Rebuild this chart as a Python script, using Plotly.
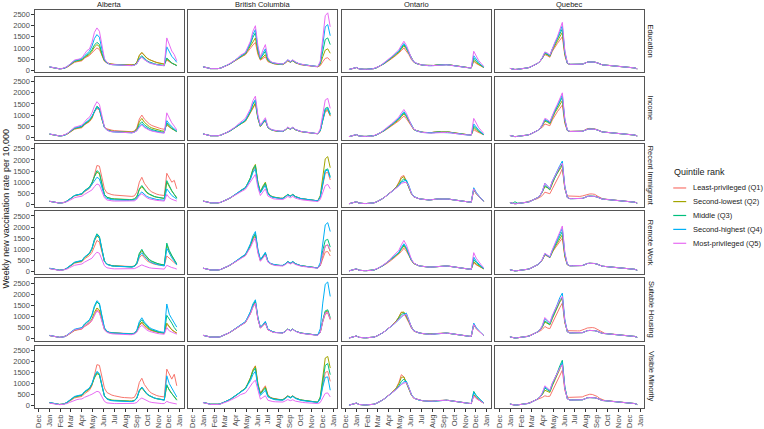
import plotly.graph_objects as go
import pandas as pd

# ---------------- data (weekly new vaccination rate per 10,000, stored in units of 10) ----------------
UNIT = 10
PROVINCES = ["Alberta", "British Columbia", "Ontario", "Quebec"]
INDICATORS = ["Education", "Income", "Recent Immigrant", "Remote Work", "Suitable Housing", "Visible Minority"]
QUINTILES = ["Least-privileged (Q1)", "Second-lowest (Q2)", "Middle (Q3)", "Second-highest (Q4)", "Most-privileged (Q5)"]
COLORS = ["#F8766D", "#A3A500", "#00BF7D", "#00B0F6", "#E76BF3"]
MONTH_TICKS = ["2020-12-01", "2021-01-01", "2021-02-01", "2021-03-01", "2021-04-01", "2021-05-01", "2021-06-01",
               "2021-07-01", "2021-08-01", "2021-09-01", "2021-10-01", "2021-11-01", "2021-12-01", "2022-01-01"]
MONTH_LABELS = ["Dec", "Jan", "Feb", "Mar", "Apr", "May", "Jun", "Jul", "Aug", "Sep", "Oct", "Nov", "Dec", "Jan"]
Y_TICKS = [0, 500, 1000, 1500, 2000, 2500]
START = {"Alberta": "2020-12-31", "British Columbia": "2020-12-31", "Ontario": "2020-12-10", "Quebec": "2020-12-31"}

AB_EDUCATION = [
 [14,12,8,6,6,7,8,13,20,28,35,38,40,42, 54,60,66,78,90,100,93,62,40,32, 29,27,26,25,25,24,24,23,23,23,25, 35,65,78,65,54,47,42,38,35,32,30,28, 45,37,31,26,20],
 [14,12,8,6,6,7,9,14,22,30,38,41,43,45, 57,65,71,85,104,115,106,69,42,33, 29,27,26,25,25,24,24,23,23,23,25, 36,67,80,66,55,48,42,38,34,31,29,27, 50,40,32,27,22],
 [14,12,8,6,6,7,9,15,23,32,40,43,45,48, 60,68,76,92,113,125,116,76,44,33, 27,25,24,23,23,22,22,21,21,21,23, 30,54,65,52,43,37,32,29,26,24,22,21, 55,42,32,26,20],
 [15,13,8,6,6,7,9,16,24,34,43,46,48,52, 64,76,85,108,142,160,148,95,48,34, 27,25,24,23,22,21,21,21,21,21,22, 29,50,60,48,40,34,30,27,24,23,21,20, 105,80,62,50,35],
 [15,13,8,6,6,7,10,16,25,35,45,48,50,56, 70,88,95,125,170,190,175,110,52,35, 27,25,24,23,22,21,21,20,20,20,22, 29,48,58,47,39,33,29,26,24,22,21,20, 145,115,86,70,42],
]
AB_INCOME = [
 [14,12,8,6,6,7,9,14,21,29,36,39,41,43, 56,64,70,85,113,130,122,80,46,38, 34,32,30,29,28,27,26,26,25,25,28, 42,82,100,82,69,60,53,48,44,41,38,36, 55,45,38,33,28],
 [14,12,8,6,6,7,9,14,22,30,38,41,43,46, 58,66,73,88,117,135,126,82,45,34, 30,28,27,26,25,24,24,23,23,23,26, 38,70,85,68,56,48,42,38,34,31,29,27, 60,47,38,32,25],
 [14,12,8,6,6,7,9,15,23,32,40,43,45,48, 60,68,76,92,120,140,130,84,45,33, 28,26,25,24,23,22,22,21,21,21,24, 33,58,70,56,46,40,35,31,28,26,24,23, 65,52,40,33,26],
 [15,13,8,6,6,7,9,16,24,33,42,45,47,50, 62,72,80,95,118,135,126,82,44,32, 27,25,24,23,22,21,21,20,20,20,23, 30,50,60,48,40,34,30,27,24,22,21,20, 75,60,47,37,28],
 [15,13,8,6,6,7,10,16,25,35,45,48,50,55, 68,82,90,110,140,160,148,95,47,33, 27,25,24,23,22,21,21,20,20,20,23, 29,46,55,44,37,32,28,25,23,21,20,19, 110,85,65,50,33],
]
AB_IMMIGRANT = [
 [14,12,8,6,6,7,9,14,22,30,38,41,43,45, 56,65,72,90,140,175,172,120,70,52, 47,44,42,41,40,40,39,38,37,36,38, 55,100,122,95,78,65,56,50,46,43,41,40, 140,120,100,108,70],
 [14,12,8,6,6,7,9,15,23,31,39,42,44,47, 60,69,76,95,125,145,138,90,45,32, 28,26,25,24,23,23,22,22,22,22,25, 35,66,80,64,52,45,39,35,32,30,28,27, 100,78,60,45,30],
 [14,12,8,6,6,7,9,15,23,32,40,43,45,48, 62,71,78,98,130,152,143,92,45,32, 27,25,24,23,22,22,21,21,21,21,24, 34,70,85,68,55,47,41,36,33,30,28,27, 107,82,62,45,28],
 [14,12,8,6,6,7,9,15,23,32,40,43,45,48, 60,68,74,90,108,122,115,75,38,27, 23,21,20,19,19,18,18,18,18,18,20, 28,46,56,44,36,31,27,24,22,21,20,19, 70,52,40,32,24],
 [14,12,8,6,6,7,8,12,18,25,30,33,35,37, 45,52,56,65,80,92,87,56,30,20, 17,16,15,15,14,14,14,14,14,14,16, 23,40,48,38,30,25,22,20,18,17,16,15, 45,30,23,20,15],
]
AB_REMOTE = [
 [14,12,8,6,6,7,9,14,21,29,37,40,42,44, 57,65,72,86,118,140,132,86,45,33, 29,27,26,25,25,24,24,23,23,23,25, 33,62,75,60,49,42,37,33,31,29,28,27, 70,60,50,40,30],
 [14,12,8,6,6,7,9,15,23,32,40,43,45,48, 62,72,80,100,138,160,150,97,47,33, 28,26,25,24,23,22,22,21,21,21,24, 38,78,95,76,62,52,45,40,36,33,31,29, 120,90,70,52,33],
 [14,12,8,6,6,7,9,15,23,32,40,43,45,48, 64,74,82,104,145,170,158,102,48,33, 28,26,25,24,23,22,22,21,21,21,24, 40,82,100,80,65,54,47,41,37,34,31,29, 128,95,73,56,34],
 [15,13,8,6,6,7,9,16,24,33,42,45,47,50, 65,75,83,104,142,165,154,100,47,32, 27,25,24,23,22,21,21,20,20,20,23, 35,70,85,68,55,46,40,35,32,29,27,25, 105,80,62,47,30],
 [13,11,7,5,5,6,8,11,17,23,28,30,32,34, 42,48,52,60,75,87,82,54,26,17, 14,13,12,12,12,12,11,11,11,11,13, 18,26,30,25,20,17,15,14,13,12,12,11, 28,22,18,15,11],
]
AB_HOUSING = [
 [14,12,8,6,6,7,9,14,21,29,36,39,41,43, 54,62,68,82,110,130,122,80,42,32, 28,27,26,25,25,24,24,23,23,23,25, 33,58,70,56,46,40,35,32,29,27,26,25, 65,50,40,32,25],
 [14,12,8,6,6,7,9,14,22,30,38,41,43,46, 58,66,73,88,118,138,129,84,43,32, 27,26,25,24,23,22,22,21,21,21,24, 33,62,75,60,49,42,37,33,30,28,26,25, 70,52,40,32,25],
 [14,12,8,6,6,7,9,15,23,32,40,43,45,48, 64,74,82,104,142,165,154,100,47,33, 27,26,25,24,23,22,22,21,21,21,24, 36,70,85,68,55,46,40,35,32,29,27,25, 105,90,70,50,35],
 [15,13,8,6,6,7,9,16,24,33,42,45,47,50, 66,76,85,108,148,171,160,104,49,34, 28,26,25,24,23,22,22,21,21,21,24, 38,77,94,75,61,51,44,39,35,32,30,28, 156,110,90,70,52],
 [14,12,8,6,6,7,9,15,23,31,39,42,44,46, 56,64,70,82,106,124,116,76,40,28, 24,22,21,20,20,19,19,18,18,18,21, 29,50,60,48,39,33,29,26,24,22,21,20, 50,35,30,25,20],
]
AB_MINORITY = [
 [13,11,8,6,6,7,9,14,20,28,35,38,40,42, 54,63,70,90,145,185,182,130,80,60, 52,48,45,42,40,38,37,36,35,35,38, 60,105,124,96,78,65,56,50,46,43,41,40, 165,140,120,142,90],
 [14,12,8,6,6,7,9,15,23,31,39,42,44,47, 60,69,76,95,125,145,138,90,45,32, 28,26,25,24,23,23,22,22,22,22,25, 35,66,80,64,52,45,39,35,32,30,28,27, 90,70,55,42,28],
 [14,12,8,6,6,7,9,15,23,32,40,43,45,48, 62,71,78,98,129,150,141,91,44,31, 26,24,23,22,21,21,20,20,20,20,23, 35,69,84,67,54,46,40,35,32,29,27,26, 95,70,55,40,25],
 [15,13,8,6,6,7,9,16,24,33,42,45,47,50, 64,73,80,100,133,155,145,94,45,31, 25,23,22,21,20,20,19,19,19,19,22, 34,69,84,67,54,46,40,35,32,29,27,25, 135,100,80,60,40],
 [12,10,6,5,5,6,7,10,15,20,25,28,30,31, 38,44,47,52,60,65,62,42,20,13, 11,10,10,10,10,9,9,9,9,9,11, 15,28,35,28,22,18,15,13,12,11,10,10, 20,15,12,10,8],
]

BC_EDUCATION = [
 [15,14,10,7,6,6,7,9,13,17,23,29,36,42, 50,59,64,69,85,100,113,125,70,45, 52,60,38,33,30,27,26,25,25,32,42, 35,42,33,28,25,23,21,20,19,17,16,15, 20,38,53,56,43],
 [15,14,10,7,6,6,7,9,13,18,24,30,37,43, 52,61,66,72,90,108,129,145,80,48, 58,70,42,35,31,28,27,26,26,33,43, 36,43,34,29,26,24,22,21,19,18,17,16, 25,60,90,96,76],
 [15,14,10,7,6,6,7,9,13,18,24,30,38,44, 54,64,69,75,96,116,148,168,93,51, 68,85,47,37,32,29,28,27,27,34,45, 37,44,35,30,27,25,23,21,20,18,17,16, 30,88,138,145,115],
 [15,14,10,7,6,6,7,9,13,18,24,30,38,45, 55,65,71,77,100,122,160,183,100,54, 76,96,50,38,33,30,29,28,28,35,46, 38,45,36,30,27,25,23,21,20,18,17,16, 35,123,195,205,155],
 [15,14,10,7,6,6,7,9,13,18,25,31,39,46, 56,67,73,80,105,130,175,200,110,58, 90,115,56,40,34,31,29,28,28,35,47, 39,46,37,31,28,25,23,21,20,18,17,16, 40,155,245,258,195],
]
BC_INCOME = [
 [15,14,10,7,6,6,7,9,13,17,23,29,36,42, 51,60,66,72,90,110,135,150,83,48, 62,75,43,35,31,28,27,26,26,33,43, 36,43,34,29,26,24,22,21,19,18,17,16, 28,75,115,120,95],
 [15,14,10,7,6,6,7,9,13,18,24,30,37,43, 52,61,67,73,92,113,140,155,86,49, 64,78,44,35,31,28,27,26,26,33,43, 36,43,34,29,26,24,22,21,19,18,17,16, 29,78,120,125,98],
 [15,14,10,7,6,6,7,9,13,18,24,30,38,44, 54,63,69,75,95,116,148,165,90,50, 65,80,45,36,32,29,28,27,27,34,44, 37,44,35,30,27,25,23,21,20,18,17,16, 30,83,130,135,105],
 [15,14,10,7,6,6,7,9,13,18,24,30,38,45, 55,65,70,77,98,120,152,170,92,51, 65,80,45,36,32,29,28,27,27,34,44, 37,44,35,30,27,25,23,21,20,18,17,16, 30,80,125,130,102],
 [15,14,10,7,6,6,7,9,13,19,25,32,40,47, 58,69,76,85,105,128,165,185,100,54, 72,88,48,38,33,30,29,28,28,35,46, 38,45,36,30,27,25,23,21,20,18,17,16, 38,110,168,175,130],
]
BC_IMMIGRANT = [
 [15,14,10,7,6,6,7,9,13,17,23,29,36,42, 51,60,66,73,93,115,150,170,95,54, 74,90,50,38,33,30,28,27,27,34,44, 37,44,35,30,27,25,23,21,20,18,17,16, 32,90,140,145,110],
 [15,14,10,7,6,6,7,9,13,18,24,30,37,43, 52,62,68,75,96,120,160,180,100,56, 82,100,54,40,34,31,29,28,28,35,45, 38,45,36,30,27,25,23,21,20,18,17,16, 40,130,205,215,165],
 [15,14,10,7,6,6,7,9,13,18,24,30,38,44, 53,63,69,75,96,119,156,175,97,55, 78,95,52,39,33,30,28,27,27,34,44, 37,44,35,30,27,25,23,21,20,18,17,16, 33,100,155,160,125],
 [15,14,10,7,6,6,7,9,13,18,24,30,38,45, 54,64,69,75,94,112,143,160,89,52, 70,85,48,37,32,29,28,27,27,34,44, 37,44,35,30,27,25,23,21,20,18,17,16, 33,98,150,155,120],
 [15,14,10,7,6,6,7,9,13,18,24,30,37,43, 50,58,62,68,85,100,120,135,76,40, 56,70,38,30,26,24,23,22,22,28,36, 30,36,28,24,22,20,18,17,16,15,14,13, 22,55,85,90,70],
]
BC_REMOTE = [
 [15,14,10,7,6,6,7,9,13,17,23,29,36,42, 51,60,66,72,92,112,142,160,89,50, 65,80,45,36,32,29,28,27,27,34,44, 37,44,35,30,27,25,23,21,20,18,17,16, 26,60,88,90,70],
 [15,14,10,7,6,6,7,9,13,18,24,30,37,43, 52,62,68,75,95,118,150,170,94,51, 66,82,46,36,32,29,28,27,27,34,44, 37,44,35,30,27,25,23,21,20,18,17,16, 28,75,115,120,90],
 [15,14,10,7,6,6,7,9,13,18,24,30,38,44, 53,63,69,75,96,119,151,170,94,51, 66,82,46,36,32,29,28,27,27,34,44, 37,44,35,30,27,25,23,21,20,18,17,16, 30,95,140,145,110],
 [15,14,10,7,6,6,7,9,13,18,24,30,38,45, 55,65,71,78,100,125,160,180,100,54, 70,87,48,38,33,30,29,28,28,35,45, 38,45,36,30,27,25,23,21,20,18,17,16, 40,135,210,220,180],
 [15,14,10,7,6,6,7,9,13,18,24,30,37,43, 51,60,65,71,90,108,133,150,83,46, 60,75,42,34,30,27,26,25,25,31,40, 34,40,32,27,25,23,21,19,18,17,16,15, 28,78,115,120,95],
]
BC_HOUSING = [
 [15,14,10,7,6,6,7,9,13,17,23,29,36,42, 51,60,66,72,92,112,142,160,89,48, 58,70,40,34,30,28,27,26,26,33,43, 36,43,34,29,26,24,22,21,19,18,17,16, 28,75,110,115,85],
 [15,14,10,7,6,6,7,9,13,18,24,30,37,43, 52,61,67,74,94,115,146,165,91,49, 60,72,41,34,30,28,27,26,26,33,43, 36,43,34,29,26,24,22,21,19,18,17,16, 29,80,120,125,90],
 [15,14,10,7,6,6,7,9,13,18,24,30,38,44, 53,63,69,75,96,119,151,170,94,50, 62,75,42,35,31,28,27,26,26,33,43, 36,43,34,29,26,24,22,21,19,18,17,16, 30,83,125,130,95],
 [15,14,10,7,6,6,7,9,13,18,24,30,38,45, 54,64,70,77,98,122,156,175,97,51, 64,78,43,35,31,28,27,26,26,33,43, 36,43,34,29,26,24,22,21,19,18,17,16, 45,160,245,255,190],
 [15,14,10,7,6,6,7,9,13,18,24,30,37,43, 51,60,66,73,92,112,142,160,89,48, 58,70,40,33,29,27,26,25,25,32,42, 35,42,33,28,25,23,21,20,18,17,16,15, 28,78,115,120,88],
]
BC_MINORITY = [
 [15,14,10,7,6,6,7,9,13,17,23,29,36,42, 52,62,70,78,100,125,162,180,100,56, 75,90,50,39,34,31,29,28,28,35,45, 38,45,36,30,27,25,23,21,20,18,17,16, 33,100,150,155,110],
 [15,14,10,7,6,6,7,9,13,18,24,30,37,43, 53,63,71,79,101,126,160,178,99,54, 71,85,47,37,33,30,28,27,27,34,44, 37,44,35,30,27,25,23,21,20,18,17,16, 40,135,215,222,170],
 [15,14,10,7,6,6,7,9,13,18,24,30,38,44, 53,63,70,78,99,122,153,170,94,52, 67,80,45,36,32,29,28,27,27,34,44, 37,44,35,30,27,25,23,21,20,18,17,16, 37,115,182,190,140],
 [15,14,10,7,6,6,7,9,13,18,24,30,38,45, 54,64,70,76,95,113,140,155,86,47, 58,70,40,33,30,27,26,25,25,32,42, 35,42,33,28,25,23,21,20,18,17,16,15, 30,85,128,130,70],
 [14,13,9,6,5,5,6,8,11,15,20,25,30,35, 42,50,54,58,72,88,105,115,65,30, 38,45,25,21,19,18,17,17,17,22,28, 23,27,21,18,16,15,14,13,12,11,10,10, 15,38,56,58,40],
]

ON_EDUCATION = [
 [3,5,8, 11,6,4,4,4,4,5,7,10,15,21,28,35,42, 50,59,68,76,88,100,87,70,48,35, 30,26,24,22,21,20,20,21,23,24,24, 25,25,24,22,20,18,16,14,13,12,11,10, 40,30,23,17,12],
 [3,5,8, 12,6,4,4,4,4,5,7,11,16,22,29,37,44, 53,62,72,80,95,110,95,75,50,36, 30,26,24,22,21,20,20,21,23,24,24, 25,25,24,22,20,18,16,14,13,12,11,10, 45,33,25,18,12],
 [3,5,8, 12,6,4,4,4,4,5,7,11,16,23,30,38,46, 56,66,76,84,100,115,100,78,52,37, 30,26,24,22,21,20,20,21,23,24,24, 25,25,24,22,20,18,16,14,13,12,11,10, 55,40,30,20,13],
 [3,5,8, 12,6,4,4,4,4,5,7,11,16,23,30,38,46, 57,67,77,86,104,120,104,80,53,37, 30,26,24,22,21,20,20,21,22,23,23, 24,24,23,21,19,17,15,14,13,12,11,10, 65,47,34,23,14],
 [3,5,8, 12,6,4,4,4,4,5,8,12,17,24,32,40,48, 60,70,82,92,112,130,112,85,55,38, 30,26,24,22,21,20,20,21,22,23,23, 24,24,23,21,19,17,15,14,13,12,11,10, 85,60,43,30,17],
]
ON_INCOME = [
 [3,5,8, 11,6,4,4,4,4,5,7,10,15,21,28,35,42, 50,58,66,74,85,95,84,68,47,34, 30,26,24,22,21,20,21,23,25,25,24, 25,25,24,22,20,18,16,14,13,12,11,10, 35,27,21,16,11],
 [3,5,8, 12,6,4,4,4,4,5,7,11,16,22,29,37,44, 53,62,71,79,93,105,92,73,49,35, 30,26,24,22,21,20,21,23,25,25,24, 25,25,24,22,20,18,16,14,13,12,11,10, 45,33,25,18,12],
 [3,5,8, 12,6,4,4,4,4,5,7,11,16,23,30,38,46, 56,65,75,83,98,110,96,76,51,36, 30,26,24,22,21,20,20,22,24,24,23, 24,24,23,21,19,17,15,14,13,12,11,10, 50,37,28,19,12],
 [3,5,8, 12,6,4,4,4,4,5,7,11,16,23,30,38,46, 57,66,76,85,101,115,100,78,52,36, 29,25,23,21,20,19,19,20,22,22,22, 23,23,22,20,18,16,14,13,12,11,10,10, 60,44,32,22,13],
 [3,5,8, 12,6,4,4,4,4,5,8,12,17,24,32,40,48, 60,70,82,91,110,125,108,82,54,37, 29,25,23,21,20,19,19,20,21,21,21, 22,22,21,19,17,16,14,13,12,11,10,10, 85,60,43,30,17],
]
ON_IMMIGRANT = [
 [3,5,8, 12,6,4,4,4,4,5,7,11,16,23,30,38,46, 58,68,80,100,125,130,105,75,48,34, 29,26,24,22,21,20,21,23,25,25,24, 25,25,24,22,20,18,16,14,13,12,11,10, 65,48,35,24,14],
 [3,5,8, 12,6,4,4,4,4,5,7,11,16,23,30,38,46, 57,67,78,96,118,125,105,76,49,34, 29,26,24,22,21,20,21,23,25,25,24, 25,25,24,22,20,18,16,14,13,12,11,10, 68,49,36,25,14],
 [3,5,8, 12,6,4,4,4,4,5,7,11,16,23,30,38,46, 56,66,76,88,105,115,105,80,50,35, 29,26,24,22,21,20,21,23,25,25,24, 25,25,24,22,20,18,16,14,13,12,11,10, 70,50,36,25,14],
 [3,5,8, 12,6,4,4,4,4,5,7,11,16,23,30,38,46, 56,65,75,85,100,105,110,85,52,35, 29,26,24,22,21,20,21,23,25,25,24, 25,25,24,22,20,18,16,14,13,12,11,10, 75,54,38,26,15],
 [3,5,8, 12,6,4,4,4,4,5,7,11,16,23,30,38,46, 55,64,74,83,95,98,100,82,50,34, 29,26,24,22,21,20,21,23,25,25,24, 25,25,24,22,20,18,16,14,13,12,11,10, 70,50,36,25,14],
]
ON_REMOTE = [
 [3,5,8, 11,6,4,4,4,4,5,7,10,15,21,28,35,42, 51,60,69,78,90,105,92,72,49,35, 30,26,24,22,21,20,20,21,23,24,24, 25,25,24,22,20,18,16,14,13,12,11,10, 40,30,23,17,12],
 [3,5,8, 12,6,4,4,4,4,5,7,11,16,23,30,38,46, 54,63,73,82,100,115,100,77,51,36, 30,26,24,22,21,20,20,21,23,24,24, 25,25,24,22,20,18,16,14,13,12,11,10, 45,33,25,18,12],
 [3,5,8, 12,6,4,4,4,4,5,7,11,16,23,30,38,46, 56,66,76,85,104,120,104,80,52,37, 30,26,24,22,21,20,20,21,23,24,24, 25,25,24,22,20,18,16,14,13,12,11,10, 55,40,30,20,13],
 [3,5,8, 12,6,4,4,4,4,5,7,11,16,23,30,38,46, 57,67,78,87,108,125,108,82,53,37, 30,26,24,22,21,20,20,21,23,24,24, 25,25,24,22,20,18,16,14,13,12,11,10, 65,47,34,23,14],
 [3,5,8, 12,6,4,4,4,4,5,8,12,17,24,32,40,48, 62,73,86,96,120,140,120,88,56,38, 30,26,24,22,21,20,20,21,23,24,24, 25,25,24,22,20,18,16,14,13,12,11,10, 85,60,43,30,17],
]
ON_HOUSING = [
 [3,5,8, 12,6,4,4,4,4,5,7,11,16,23,30,38,46, 57,68,80,98,120,115,95,72,48,34, 30,26,24,22,21,20,20,21,23,24,24, 25,25,24,22,20,18,16,14,13,12,11,10, 62,45,33,23,14],
 [3,5,8, 12,6,4,4,4,4,5,7,11,16,23,30,38,46, 57,68,80,98,118,120,98,74,49,34, 30,26,24,22,21,20,20,21,23,24,24, 25,25,24,22,20,18,16,14,13,12,11,10, 64,46,34,24,14],
 [3,5,8, 12,6,4,4,4,4,5,7,11,16,23,30,38,46, 56,66,77,90,108,115,105,79,51,35, 30,26,24,22,21,20,20,21,23,24,24, 25,25,24,22,20,18,16,14,13,12,11,10, 66,47,35,24,14],
 [3,5,8, 12,6,4,4,4,4,5,7,11,16,23,30,38,46, 55,65,75,86,100,108,115,85,53,36, 30,26,24,22,21,20,20,21,23,24,24, 25,25,24,22,20,18,16,14,13,12,11,10, 70,50,36,25,15],
 [3,5,8, 12,6,4,4,4,4,5,7,11,16,23,30,38,46, 56,66,76,86,100,105,110,83,52,35, 30,26,24,22,21,20,20,21,23,24,24, 25,25,24,22,20,18,16,14,13,12,11,10, 64,46,34,24,14],
]
ON_MINORITY = [
 [3,5,8, 12,6,4,4,4,4,5,7,11,16,23,30,38,46, 58,69,82,105,140,130,100,74,48,34, 30,26,24,22,21,20,20,21,23,24,24, 25,25,24,22,20,18,16,14,13,12,11,10, 45,33,25,18,12],
 [3,5,8, 12,6,4,4,4,4,5,7,11,16,23,30,38,46, 57,68,80,100,128,130,102,76,49,34, 30,26,24,22,21,20,20,21,23,24,24, 25,25,24,22,20,18,16,14,13,12,11,10, 50,37,27,19,12],
 [3,5,8, 12,6,4,4,4,4,5,7,11,16,23,30,38,46, 56,66,77,90,110,120,108,80,51,35, 30,26,24,22,21,20,20,21,23,24,24, 25,25,24,22,20,18,16,14,13,12,11,10, 65,47,34,23,14],
 [3,5,8, 12,6,4,4,4,4,5,7,11,16,23,30,38,46, 55,65,75,86,100,108,110,84,52,35, 30,26,24,22,21,20,20,21,23,24,24, 25,25,24,22,20,18,16,14,13,12,11,10, 60,44,32,22,13],
 [3,5,8, 12,6,4,4,4,4,5,7,11,16,23,30,38,46, 55,64,74,84,96,102,105,82,51,34, 30,26,24,22,21,20,20,21,23,24,24, 25,25,24,22,20,18,16,14,13,12,11,10, 45,33,25,18,12],
]

QC_EDUCATION = [
 [8,4,3,4,5,6,7,10,13,18,23,30,39, 52,70,65,58,85,105,120,135,150,65,30, 26,26,26,26,25,27,31,36,37,37,36,33,27,24,23,22,21,20,19,18,17,16,15,15,14,13,10,6],
 [8,4,3,4,5,6,7,10,13,18,23,30,39, 54,75,70,62,90,112,130,150,170,72,31, 26,26,26,26,25,27,31,36,37,37,36,33,27,24,23,22,21,20,19,18,17,16,15,15,14,13,10,6],
 [8,4,3,4,5,6,7,10,13,18,23,30,39, 55,78,72,64,95,118,138,162,185,78,32, 26,26,26,26,25,27,31,36,37,37,36,33,27,24,23,22,21,20,19,18,17,16,15,15,14,13,10,6],
 [8,4,3,4,5,6,7,10,13,18,23,30,39, 56,80,75,66,98,122,145,175,200,83,32, 26,26,26,26,25,27,31,36,37,37,36,33,27,24,23,22,21,20,19,18,17,16,15,15,14,13,10,6],
 [8,4,3,4,5,6,7,10,13,18,23,30,39, 57,82,77,68,100,125,150,185,215,88,33, 26,26,26,26,25,27,31,36,37,37,36,33,27,24,23,22,21,20,19,18,17,16,15,15,14,13,10,6],
]
QC_INCOME = [
 [8,4,3,4,5,6,7,10,13,18,23,30,39, 45,60,56,52,78,100,115,130,145,62,30, 27,27,27,27,26,28,33,39,40,40,38,34,28,24,23,22,21,20,19,18,17,16,15,15,14,13,10,6],
 [8,4,3,4,5,6,7,10,13,18,23,30,39, 52,72,68,60,88,110,128,145,165,70,31, 26,26,26,26,25,27,31,36,37,37,36,33,27,24,23,22,21,20,19,18,17,16,15,15,14,13,10,6],
 [8,4,3,4,5,6,7,10,13,18,23,30,39, 55,78,72,64,94,117,136,158,180,76,32, 26,26,26,26,25,27,31,36,37,37,36,33,27,24,23,22,21,20,19,18,17,16,15,15,14,13,10,6],
 [8,4,3,4,5,6,7,10,13,18,23,30,39, 56,80,75,66,97,120,142,168,190,80,32, 26,26,26,26,25,27,31,36,37,37,36,33,27,24,23,22,21,20,19,18,17,16,15,15,14,13,10,6],
 [8,4,3,4,5,6,7,10,13,18,23,30,39, 58,85,80,70,100,125,148,175,200,84,33, 26,26,26,26,25,27,31,36,37,37,36,33,27,24,23,22,21,20,19,18,17,16,15,15,14,13,10,6],
]
QC_IMMIGRANT = [
 [8,4,3,4,5,7,9,12,15,18,22,26,32, 40,55,50,48,70,90,110,135,160,70,38, 37,37,37,37,36,38,42,46,47,47,45,38,30,26,24,23,22,21,20,19,18,17,16,15,14,13,10,6],
 [8,4,3,4,5,6,7,10,13,18,23,30,39, 56,80,75,65,95,120,140,160,175,74,31, 26,26,26,26,25,27,31,36,37,37,36,33,27,24,23,22,21,20,19,18,17,16,15,15,14,13,10,6],
 [8,4,12,6,5,6,7,10,13,18,23,30,39, 57,85,78,68,98,122,143,165,180,76,31, 26,26,26,26,25,27,31,36,37,37,36,33,27,24,23,22,21,20,19,18,17,16,15,15,14,13,10,6],
 [8,4,3,4,5,6,7,10,13,18,23,30,39, 60,95,85,72,105,130,150,175,195,82,32, 26,26,26,26,25,27,31,36,37,37,36,33,27,24,23,22,21,20,19,18,17,16,15,15,14,13,10,6],
 [8,4,3,4,5,6,7,10,13,18,23,30,39, 60,95,85,72,105,128,148,170,185,78,31, 26,26,26,26,25,27,31,36,37,37,36,33,27,24,23,22,21,20,19,18,17,16,15,15,14,13,10,6],
]
QC_REMOTE = [
 [8,4,3,4,5,6,7,10,13,18,23,30,39, 52,75,70,62,88,105,120,135,150,65,30, 26,26,26,26,25,27,31,36,37,37,36,33,27,24,23,22,21,20,19,18,17,16,15,15,14,13,10,6],
 [8,4,3,4,5,6,7,10,13,18,23,30,39, 53,77,72,63,90,110,128,145,165,70,31, 26,26,26,26,25,27,31,36,37,37,36,33,27,24,23,22,21,20,19,18,17,16,15,15,14,13,10,6],
 [8,4,3,4,5,6,7,10,13,18,23,30,39, 54,79,73,64,93,115,135,158,180,76,32, 26,26,26,26,25,27,31,36,37,37,36,33,27,24,23,22,21,20,19,18,17,16,15,15,14,13,10,6],
 [8,4,3,4,5,6,7,10,13,18,23,30,39, 55,80,74,65,95,118,142,170,195,82,32, 26,26,26,26,25,27,31,36,37,37,36,33,27,24,23,22,21,20,19,18,17,16,15,15,14,13,10,6],
 [8,4,3,4,5,6,7,10,13,18,23,30,39, 56,82,76,67,98,122,148,178,205,86,33, 26,26,26,26,25,27,31,36,37,37,36,33,27,24,23,22,21,20,19,18,17,16,15,15,14,13,10,6],
]
QC_HOUSING = [
 [8,4,3,4,5,6,8,11,15,19,24,28,34, 42,55,48,45,70,95,115,140,160,70,36, 35,35,35,35,35,38,43,48,50,50,48,42,33,27,24,23,22,21,20,19,18,17,16,15,14,13,10,6],
 [8,4,3,4,5,6,7,10,13,18,23,30,39, 52,75,70,62,90,115,140,165,180,76,31, 26,26,26,26,25,27,31,36,37,37,36,33,27,24,23,22,21,20,19,18,17,16,15,15,14,13,10,6],
 [8,4,3,4,5,6,7,10,13,18,23,30,39, 54,80,73,64,95,120,145,170,185,78,31, 26,26,26,26,25,27,31,36,37,37,36,33,27,24,23,22,21,20,19,18,17,16,15,15,14,13,10,6],
 [8,4,3,4,5,6,7,10,13,18,23,30,39, 58,90,82,70,100,125,155,185,205,86,32, 26,26,26,26,25,27,31,36,37,37,36,33,27,24,23,22,21,20,19,18,17,16,15,15,14,13,10,6],
 [8,4,3,4,5,6,7,10,13,18,23,30,39, 60,95,85,72,105,128,150,175,190,80,31, 26,26,26,26,25,27,31,36,37,37,36,33,27,24,23,22,21,20,19,18,17,16,15,15,14,13,10,6],
]
QC_MINORITY = [
 [8,4,3,4,5,6,8,11,15,19,23,27,32, 38,45,42,43,65,90,110,135,160,70,38, 38,38,38,38,38,40,45,50,52,51,48,42,33,27,24,23,22,21,20,19,18,17,16,15,14,13,10,6],
 [8,4,3,4,5,6,7,10,13,18,23,30,39, 50,70,65,60,90,115,140,170,190,80,32, 26,26,26,26,25,27,31,36,37,37,36,33,27,24,23,22,21,20,19,18,17,16,15,15,14,13,10,6],
 [8,4,3,4,5,6,7,10,13,18,23,30,39, 54,80,73,64,95,120,150,180,205,86,32, 26,26,26,26,25,27,31,36,37,37,36,33,27,24,23,22,21,20,19,18,17,16,15,15,14,13,10,6],
 [8,4,3,4,5,6,7,10,13,18,23,30,39, 57,85,78,68,100,125,150,175,195,82,32, 26,26,26,26,25,27,31,36,37,37,36,33,27,24,23,22,21,20,19,18,17,16,15,15,14,13,10,6],
 [8,4,3,4,5,6,7,10,13,18,23,30,39, 59,90,82,70,103,128,150,170,185,78,31, 26,26,26,26,25,27,31,36,37,37,36,33,27,24,23,22,21,20,19,18,17,16,15,15,14,13,10,6],
]

PANELS = {
    "Alberta": [AB_EDUCATION, AB_INCOME, AB_IMMIGRANT, AB_REMOTE, AB_HOUSING, AB_MINORITY],
    "British Columbia": [BC_EDUCATION, BC_INCOME, BC_IMMIGRANT, BC_REMOTE, BC_HOUSING, BC_MINORITY],
    "Ontario": [ON_EDUCATION, ON_INCOME, ON_IMMIGRANT, ON_REMOTE, ON_HOUSING, ON_MINORITY],
    "Quebec": [QC_EDUCATION, QC_INCOME, QC_IMMIGRANT, QC_REMOTE, QC_HOUSING, QC_MINORITY],
}

# ---------------- layout geometry (pixels) ----------------
W, H = 764, 429
PX_LEFT, PX_RIGHT = 34.0, 645.0
PX_TOP, PX_BOTTOM = 10.0, 411.0
GAP_X, GAP_Y = 4.5, 4.6
PW = (PX_RIGHT - PX_LEFT - 3 * GAP_X) / 4
PH = (PX_BOTTOM - PX_TOP - 5 * GAP_Y) / 6
FONT = "Liberation Sans, Arial, sans-serif"
AXIS_COL = "#4d4d4d"

fig = go.Figure()
layout = dict(
    width=W, height=H, autosize=False,
    margin=dict(l=0, r=0, t=0, b=0),
    paper_bgcolor="white", plot_bgcolor="white",
    showlegend=False, font=dict(family=FONT, color="#1a1a1a"),
)
annotations = []
shapes = []

n = 0
for r, ind in enumerate(INDICATORS):
    for c, prov in enumerate(PROVINCES):
        n += 1
        sfx = "" if n == 1 else str(n)
        x0 = PX_LEFT + c * (PW + GAP_X)
        y0 = PX_TOP + r * (PH + GAP_Y)
        last_row = r == len(INDICATORS) - 1
        first_col = c == 0
        layout["xaxis" + sfx] = dict(
            domain=[x0 / W, (x0 + PW) / W], anchor="y" + sfx,
            type="date", range=["2020-11-20", "2022-01-12"],
            tickvals=MONTH_TICKS, ticktext=MONTH_LABELS,
            showticklabels=last_row, ticks="outside" if last_row else "",
            ticklen=2.5, tickwidth=0.8, tickcolor="#333333", tickangle=-90,
            tickfont=dict(size=7.5, color=AXIS_COL, family=FONT),
            showgrid=False, zeroline=False,
            showline=True, mirror=True, linecolor="#555555", linewidth=1,
            fixedrange=True,
        )
        layout["yaxis" + sfx] = dict(
            domain=[1 - (y0 + PH) / H, 1 - y0 / H], anchor="x" + sfx,
            range=[-105, 2710], tickvals=Y_TICKS,
            showticklabels=first_col, ticks="outside" if first_col else "",
            ticklen=2.5, tickwidth=0.8, tickcolor="#333333",
            tickfont=dict(size=7.5, color=AXIS_COL, family=FONT),
            showgrid=False, zeroline=False,
            showline=True, mirror=True, linecolor="#555555", linewidth=1,
            fixedrange=True,
        )
        series = PANELS[prov][r]
        for q in range(5):
            vals = [v * UNIT for v in series[q]]
            dates = pd.date_range(START[prov], periods=len(vals), freq="7D")
            fig.add_trace(go.Scatter(
                x=dates, y=vals, mode="lines",
                line=dict(color=COLORS[q], width=1),
                name=QUINTILES[q], xaxis="x" + sfx, yaxis="y" + sfx,
                hoverinfo="skip", showlegend=False,
            ))
        if r == 0:
            annotations.append(dict(
                text=prov, x=(x0 + PW / 2) / W, y=1 - 4.5 / H, xref="paper", yref="paper",
                showarrow=False, xanchor="center", yanchor="middle",
                font=dict(size=7.5, color="#1a1a1a", family=FONT)))
        if c == len(PROVINCES) - 1:
            annotations.append(dict(
                text=ind, x=651.5 / W, y=1 - (y0 + PH / 2) / H, xref="paper", yref="paper",
                showarrow=False, xanchor="center", yanchor="middle", textangle=90,
                font=dict(size=7.5, color="#1a1a1a", family=FONT)))

# y-axis title
annotations.append(dict(
    text="Weekly new vaccination rate per 10,000", x=5.5 / W, y=1 - ((PX_TOP + PX_BOTTOM) / 2) / H,
    xref="paper", yref="paper", showarrow=False, textangle=-90,
    xanchor="center", yanchor="middle", font=dict(size=9, color="#1a1a1a", family=FONT)))

# legend (drawn manually to match layout)
annotations.append(dict(
    text="Quintile rank", x=673 / W, y=1 - 173.5 / H, xref="paper", yref="paper",
    showarrow=False, xanchor="left", yanchor="middle", font=dict(size=9, color="#1a1a1a", family=FONT)))
LEG_Y = [189.3, 203.0, 217.0, 231.0, 245.0]
for q in range(5):
    shapes.append(dict(type="line", xref="paper", yref="paper",
                       x0=674 / W, x1=687 / W, y0=1 - LEG_Y[q] / H, y1=1 - LEG_Y[q] / H,
                       line=dict(color=COLORS[q], width=1.2)))
    annotations.append(dict(
        text=QUINTILES[q], x=692 / W, y=1 - LEG_Y[q] / H, xref="paper", yref="paper",
        showarrow=False, xanchor="left", yanchor="middle",
        font=dict(size=7.5, color="#1a1a1a", family=FONT)))

layout["annotations"] = annotations
layout["shapes"] = shapes
fig.update_layout(**layout)
fig.write_html("out.html")
